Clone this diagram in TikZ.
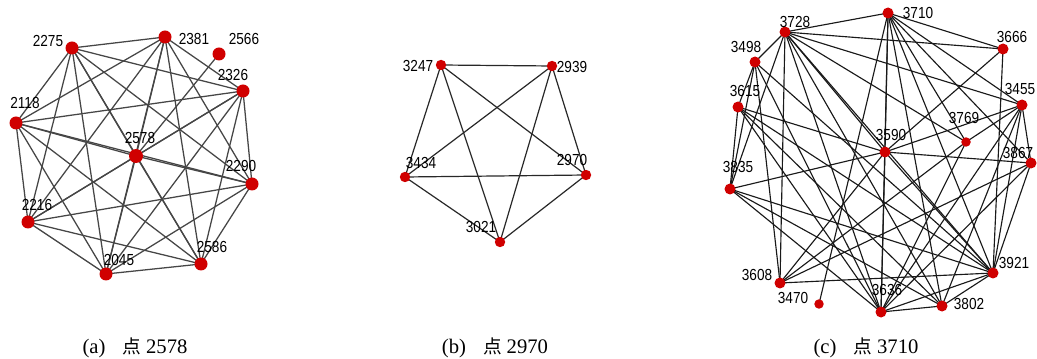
\documentclass[tikz,border=0pt]{standalone}
\usepackage{fontspec}
\setmainfont{Liberation Serif}
\newfontfamily\lblfont{Liberation Sans}
\newfontfamily\cjkfont{Noto Sans CJK SC}
\definecolor{vred}{RGB}{208,0,0}
\definecolor{egA}{RGB}{70,70,70}
\definecolor{egB}{RGB}{40,40,40}
\definecolor{egC}{RGB}{25,25,25}
\newcommand{\nlab}[1]{\scalebox{0.85}[1]{#1}}
\pgfdeclarelayer{paper}
\pgfdeclarelayer{edges}
\pgfsetlayers{paper,edges,main}
\begin{document}
\begin{tikzpicture}[x=0.75pt,y=-0.75pt,
  vtx/.style={circle,fill=vred,draw=none,inner sep=0pt,minimum size=#1},
  vtx/.default=8.25pt,
  lbl/.style={inner sep=0pt,font=\lblfont\fontsize{12pt}{12pt}\selectfont},
  captxt/.style={inner sep=0pt,anchor=base,font=\fontsize{15.5pt}{16pt}\selectfont},
  edgeA/.style={draw=egA,line width=0.95pt},
  edgeB/.style={draw=egB,line width=0.9pt},
  edgeC/.style={draw=egC,line width=0.85pt}]
\begin{pgfonlayer}{paper}
\fill[white] (0,0) rectangle (1037,359);
\end{pgfonlayer}
\useasboundingbox (0,0) rectangle (1037,359);

% ---------- panel (a) ----------
\foreach \n/\x/\y in {2275/72/48,2381/165/37,2566/219/54,2326/243/91,2118/16/123,
  2290/252/184,2216/28/222,2586/201/264,2045/106/274}
  \node[vtx=9.75pt] (a\n) at (\x,\y) {};
\node[vtx=10.5pt] (a2578) at (136,156) {};
\begin{pgfonlayer}{edges}
\foreach \s/\ts in {2275/{2381,2326,2118,2578,2290,2216,2586,2045},
  2381/{2326,2118,2578,2290,2216,2586,2045},
  2326/{2118,2578,2290,2216,2586,2045},
  2118/{2578,2290,2216,2586,2045},
  2578/{2290,2216,2586,2045,2566},
  2290/{2216,2586,2045},
  2216/{2586,2045},
  2586/{2045}}
  \foreach \t in \ts {\draw[edgeA] (a\s.center) -- (a\t.center);}
\end{pgfonlayer}
\foreach \n/\x/\y in {2275/48/41,2381/194/39,2566/244/39,2326/233/75,2118/25/103,
  2578/140/138,2290/241/166,2216/37/205,2586/212/247,2045/119/260}
  \node[lbl] (la\n) at (\x,\y) {\nlab{\n}};

% ---------- panel (b) ----------
\foreach \n/\x/\y in {3247/441/65,2939/552/66,3434/405/177,2970/586/175,3021/500/242}
  \node[vtx=7.8pt] (b\n) at (\x,\y) {};
\begin{pgfonlayer}{edges}
\foreach \s/\ts in {3247/{2939,3434,3021,2970},
  2939/{3434,3021,2970},
  3434/{2970,3021},
  3021/{2970}}
  \foreach \t in \ts {\draw[edgeB] (b\s.center) -- (b\t.center);}
\end{pgfonlayer}
\foreach \n/\x/\y in {3247/418/66,2939/572/67,3434/421/163,2970/572/160,3021/481/227}
  \node[lbl] (lb\n) at (\x,\y) {\nlab{\n}};

% ---------- panel (c) ----------
\foreach \n/\x/\y in {3710/888/13,3728/785/32,3666/1003/49,3498/755/62,3615/738/107,
  3455/1022/105,3590/885/152,3867/1031/163,3835/730/189,3921/993/273,
  3608/780/283,3802/942/306,3636/881/312}
  \node[vtx] (c\n) at (\x,\y) {};
\node[vtx=7.1pt] (c3769) at (966,142) {};
\node[vtx=7.1pt] (c3470) at (819,304) {};
\begin{pgfonlayer}{edges}
\foreach \s/\ts in {3710/{3728,3666,3590,3470,3455,3769,3867,3921,3802,3636},
  3728/{3666,3455,3769,3498,3835,3608,3590,3921,3802,3636},
  3666/{3590,3921},
  3498/{3615,3835,3608,3636,3921},
  3615/{3835,3590,3921,3636,3802},
  3455/{3769,3590,3867,3921,3636,3802},
  3769/{3636,3608},
  3590/{3835,3867,3636,3608,3921},
  3867/{3921,3636,3608},
  3835/{3636,3921,3802},
  3921/{3608,3636,3802},
  3636/{3802}}
  \foreach \t in \ts {\draw[edgeC] (c\s.center) -- (c\t.center);}
\end{pgfonlayer}
\foreach \n/\x/\y in {3710/918/13,3728/795/22,3666/1012/37,3498/746/47,3615/745/91,
  3455/1020/89,3769/964/118,3590/891/135,3867/1018/153,3835/738/167,
  3921/1014/263,3608/757/275,3470/793/298,3802/969/304,3636/887/290}
  \node[lbl] (lc\n) at (\x,\y) {\nlab{\n}};

% ---------- captions ----------
\node[captxt] (capa) at (135,353) {(a)\hspace{13pt}{\cjkfont\fontsize{14pt}{14pt}\selectfont 点}\hspace{3.5pt}2578};
\node[captxt] (capb) at (495,353) {(b)\hspace{13pt}{\cjkfont\fontsize{14pt}{14pt}\selectfont 点}\hspace{3.5pt}2970};
\node[captxt] (capc) at (866,353) {(c)\hspace{13pt}{\cjkfont\fontsize{14pt}{14pt}\selectfont 点}\hspace{3.5pt}3710};
\end{tikzpicture}
\end{document}
